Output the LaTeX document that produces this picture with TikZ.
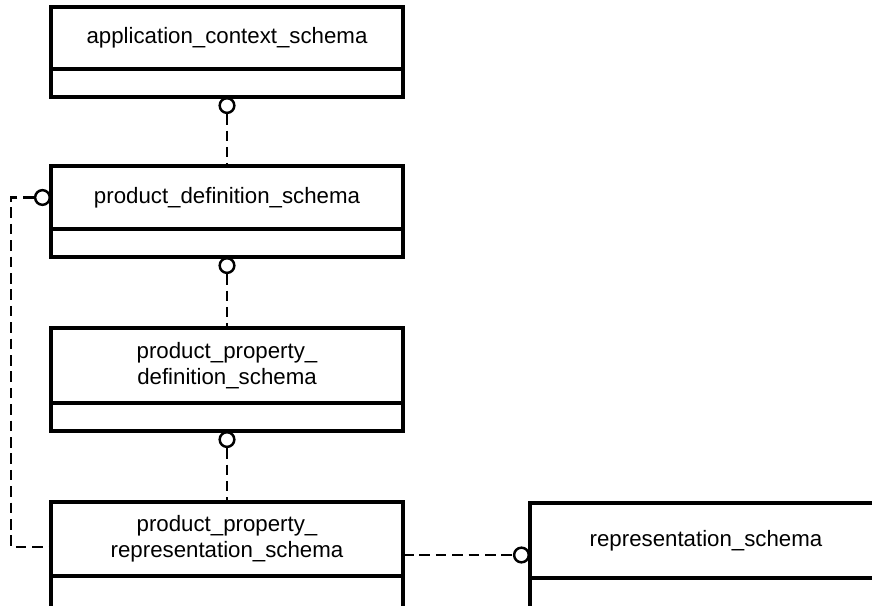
\documentclass[tikz,border=0pt]{standalone}
\usepackage{fontspec}
\setmainfont{Liberation Sans}
\usetikzlibrary{positioning}

\tikzset{
  schema/.style={draw, line width=2.9pt, outer sep=0pt, inner sep=0pt,
    minimum width=10.56cm, align=center,
    font=\fontsize{19}{22.2}\selectfont},
  compart/.style={draw, line width=2.9pt, outer sep=0pt, inner sep=0pt,
    minimum width=10.56cm, minimum height=0.84cm},
  ring/.style={circle, draw, fill=white, line width=2.1pt,
    minimum size=0.44cm, inner sep=0pt},
  link/.style={line width=2.1pt, dash pattern=on 9pt off 5pt}
}

\begin{document}
\begin{tikzpicture}
    \useasboundingbox (0,0) rectangle (26.16,18.15);
    \clip (0,0) rectangle (26.16,18.15);

    % Application context
    \node [schema, minimum height=1.86cm] (app) at (6.81,17.01)
        {application\_context\_schema};
    \node [compart, below=0pt of app] (app-b) {};

    % Product definition
    \node [schema, minimum height=1.89cm] (pd) at (6.81,12.225)
        {product\_definition\_schema};
    \node [compart, below=0pt of pd] (pd-b) {};

    % Product property definition
    \node [schema, minimum height=2.25cm] (ppd) at (6.81,7.185)
        {product\_property\_\\definition\_schema};
    \node [compart, below=0pt of ppd] (ppd-b) {};

    % Product property representation
    \node [schema, minimum height=2.22cm] (ppr) at (6.81,1.98)
        {product\_property\_\\representation\_schema};
    \node [compart, minimum height=1cm, below=0pt of ppr] (ppr-b) {};

    % Representation
    \node [schema, minimum height=2.25cm] (rep) at (21.18,1.935)
        {representation\_schema};
    \node [compart, minimum height=1cm, below=0pt of rep] (rep-b) {};

    % Circles
    \node [ring, below=0pt of app-b] (c1) {};
    \node [ring, below=0pt of pd-b] (c2) {};
    \node [ring, below=0pt of ppd-b] (c3) {};
    \node [ring, left=0pt of pd] (c4) {};
    \node [ring, anchor=east] (c5) at ([yshift=-0.435cm]rep.west) {};

    % Dashed links
    \draw[link] (c1.south) -- (pd.north);
    \draw[link] (c2.south) -- (ppd.north);
    \draw[link] (c3.south) -- (ppr.north);
    \coordinate (bend) at (0.33,1.74);
    \draw[link] (c4.west) -| (bend) -- (bend -| ppr.west);
    \draw[link] (c5.west -| ppr.east) -- (c5.west);

\end{tikzpicture}
\end{document}
